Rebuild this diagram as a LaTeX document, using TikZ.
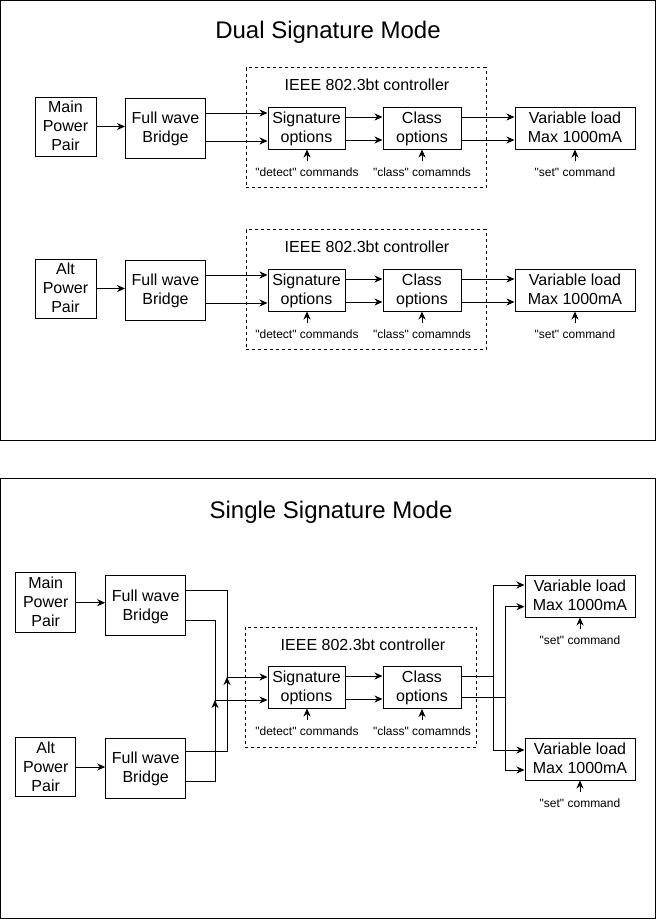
\documentclass[tikz,border=0pt]{standalone}
\usepackage{fontspec}
\setmainfont{Liberation Sans}[Ligatures=TeXOff]
\usetikzlibrary{arrows.meta}
\newcommand{\lnstrut}{\rule[-3pt]{0pt}{16pt}}
\tikzstyle{blk}=[rectangle,draw=black,line width=1pt,align=center,inner sep=0,font=\fontsize{16}{19}\selectfont]
\tikzstyle{ctl}=[rectangle,draw=black,line width=1pt,dashed]
\tikzstyle{hdr}=[inner sep=0,font=\fontsize{16}{19}\selectfont]
\tikzstyle{ttl}=[inner sep=0,font=\fontsize{24}{29}\selectfont]
\tikzstyle{cmd}=[inner sep=0,font=\fontsize{12}{14}\selectfont]
\tikzstyle{wire}=[line width=1pt]
\tikzstyle{arrow}=[line width=1pt,->,>={Stealth[length=8pt,width=7pt,inset=2.5pt]}]
\begin{document}
\begin{tikzpicture}[x=1pt,y=-1pt]
\useasboundingbox (0,0) rectangle (656,919);
\draw[wire] (0.5,0.5) rectangle (655.5,440);
\draw[wire] (0.5,478) rectangle (655.5,918.5);
\node[ttl] (ttlD) at (328,32) {Dual Signature Mode};
\node[ttl] (ttlS) at (331,512) {Single Signature Mode};

\foreach \o/\n/\t in {0/M/Main,162/A/Alt}{
	\node[ctl,minimum width=240pt,minimum height=120pt] (ctl\n) at (366,127.5+\o) {};
	\node[hdr] (hdr\n) at (367,85+\o) {IEEE 802.3bt controller};
	\node[blk,minimum width=61pt,minimum height=59pt] (pwr\n) at (65.5,126.5+\o) {\lnstrut\t\\Power\\Pair\lnstrut};
	\node[blk,minimum width=80pt,minimum height=60pt] (brg\n) at (165.5,128+\o) {\lnstrut Full wave\\Bridge\lnstrut};
	\node[blk,minimum width=77pt,minimum height=42pt] (sig\n) at (306.5,128+\o) {\lnstrut Signature\\options\lnstrut};
	\node[blk,minimum width=78pt,minimum height=42pt] (cls\n) at (422,128+\o) {\lnstrut Class\\options\lnstrut};
	\node[blk,minimum width=120pt,minimum height=42pt] (var\n) at (575,128+\o) {\lnstrut Variable load\\Max 1000mA\lnstrut};
	\node[cmd] (detl\n) at (307,172+\o) {"detect" commands};
	\node[cmd] (clsl\n) at (422,172+\o) {"class" comamnds};
	\node[cmd] (setl\n) at (575,172+\o) {"set" command};
	\draw[arrow] (pwr\n.east) -- (pwr\n.east -| brg\n.west);
	\draw[arrow] ([yshift=15pt]brg\n.east) -- ([yshift=15pt]sig\n.west);
	\draw[arrow] ([yshift=-13pt]brg\n.east) -- ([yshift=-13pt]sig\n.west);
	\draw[arrow] ([yshift=11pt]sig\n.east) -- ([yshift=11pt]cls\n.west);
	\draw[arrow] ([yshift=-12pt]sig\n.east) -- ([yshift=-12pt]cls\n.west);
	\draw[arrow] ([yshift=11pt]cls\n.east) -- ([yshift=11pt]var\n.west);
	\draw[arrow] ([yshift=-12pt]cls\n.east) -- ([yshift=-12pt]var\n.west);
	\draw[arrow] ([yshift=6pt]detl\n.north) -- (detl\n.north |- sig\n.south);
	\draw[arrow] ([yshift=6pt]clsl\n.north) -- (clsl\n.north |- cls\n.south);
	\draw[arrow] ([yshift=6pt]setl\n.north) -- (setl\n.north |- var\n.south);
}

\node[ctl,minimum width=231pt,minimum height=120pt] (ctlS) at (360.5,687) {};
\node[hdr] (hdrS) at (363,645) {IEEE 802.3bt controller};
\node[blk,minimum width=60pt,minimum height=60pt] (pwrS1) at (45.7,602.7) {\lnstrut Main\\Power\\Pair\lnstrut};
\node[blk,minimum width=60pt,minimum height=59pt] (pwrS2) at (45.7,767) {\lnstrut Alt\\Power\\Pair\lnstrut};
\node[blk,minimum width=80pt,minimum height=60pt] (brgS1) at (145.7,605.7) {\lnstrut Full wave\\Bridge\lnstrut};
\node[blk,minimum width=80pt,minimum height=60pt] (brgS2) at (145.7,768.3) {\lnstrut Full wave\\Bridge\lnstrut};
\node[blk,minimum width=77pt,minimum height=42pt] (sigS) at (306.5,687) {\lnstrut Signature\\options\lnstrut};
\node[blk,minimum width=78pt,minimum height=42pt] (clsS) at (422,687.5) {\lnstrut Class\\options\lnstrut};
\node[blk,minimum width=110pt,minimum height=42pt] (varS1) at (580,596) {\lnstrut Variable load\\Max 1000mA\lnstrut};
\node[blk,minimum width=110pt,minimum height=42pt] (varS2) at (580,759) {\lnstrut Variable load\\Max 1000mA\lnstrut};
\node[cmd] (detlS) at (307,731) {"detect" commands};
\node[cmd] (clslS) at (422,731) {"class" comamnds};
\node[cmd] (setlS1) at (580,640) {"set" command};
\node[cmd] (setlS2) at (580,803) {"set" command};
\coordinate (jA) at (227,677);
\coordinate (jB) at (215,700);

\draw[arrow] (pwrS1.east) -- (pwrS1.east -| brgS1.west);
\draw[arrow] (pwrS2.east) -- (pwrS2.east -| brgS2.west);
\draw[arrow] ([yshift=15.7pt]brgS1.east) -| (jA) -- (jA -| sigS.west);
\draw[arrow] ([yshift=16.6pt]brgS2.east) -| (jA);
\draw[arrow] ([yshift=-14.3pt]brgS1.east) -| (jB) -- (jB -| sigS.west);
\draw[arrow] ([yshift=-13.4pt]brgS2.east) -| (jB);
\draw[arrow] ([yshift=11pt]sigS.east) -- ([yshift=11pt]sigS.east -| clsS.west);
\draw[arrow] ([yshift=-12pt]sigS.east) -- ([yshift=-12pt]sigS.east -| clsS.west);
\draw[wire] ([yshift=11pt]clsS.east) -- ++(32,0) coordinate (kA);
\draw[wire] ([yshift=-10pt]clsS.east) -- ++(44,0) coordinate (kB);
\draw[arrow] (kA) |- ([yshift=11pt]varS1.west);
\draw[arrow] (kA) |- ([yshift=9pt]varS2.west);
\draw[arrow] (kB) |- ([yshift=-10.7pt]varS1.west);
\draw[arrow] (kB) |- ([yshift=-11pt]varS2.west);
\draw[arrow] ([yshift=6pt]detlS.north) -- (detlS.north |- sigS.south);
\draw[arrow] ([yshift=6pt]clslS.north) -- (clslS.north |- clsS.south);
\draw[arrow] ([yshift=6pt]setlS1.north) -- (setlS1.north |- varS1.south);
\draw[arrow] ([yshift=6pt]setlS2.north) -- (setlS2.north |- varS2.south);
\end{tikzpicture}
\end{document}
